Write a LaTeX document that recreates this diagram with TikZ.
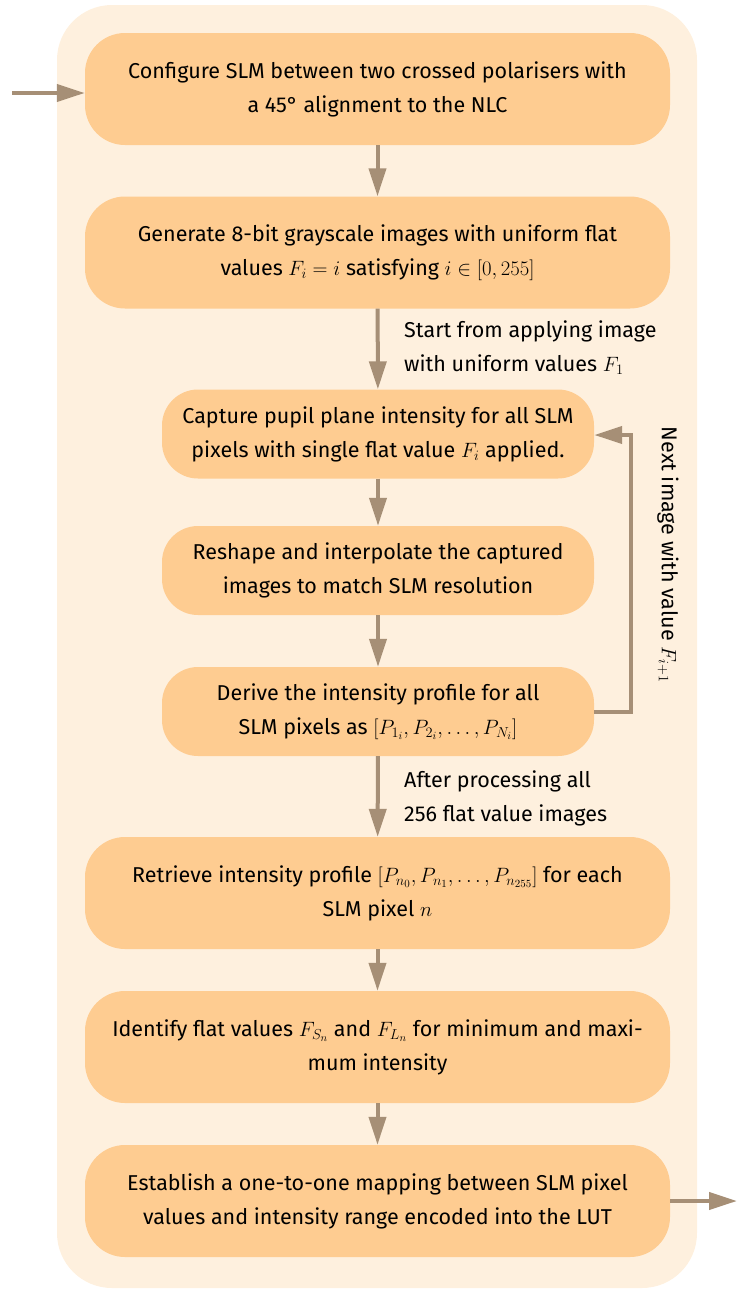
\documentclass[tikz,border=0pt]{standalone}
\usepackage{fontspec}
\setmainfont{Fira Sans}
\usetikzlibrary{arrows.meta}
\definecolor{panelc}{RGB}{254,240,222}
\definecolor{boxc}{RGB}{254,204,145}
\definecolor{arrc}{RGB}{166,143,118}
\begin{document}
\begin{tikzpicture}[x=1pt,y=-1pt,
  stepbox/.style={fill=boxc,draw=none,rounded corners=40pt,align=center,inner sep=0pt,
    font=\fontsize{21.5}{34}\selectfont},
  widebox/.style={stepbox,minimum width=585pt,minimum height=112pt},
  narrowbox/.style={stepbox,minimum width=432pt,minimum height=89pt,rounded corners=36pt},
  conn/.style={draw=arrc,line width=4pt,-{Triangle[length=28pt,width=17pt]}},
  lbl/.style={align=left,anchor=west,inner sep=0pt,font=\fontsize{21.5}{34}\selectfont}]
\useasboundingbox (0,0) rectangle (737,1291);
\fill[panelc,rounded corners=55pt] (57,5) rectangle (697,1288);

\node[widebox] (b1) at (377.5,89) {Configure SLM between two crossed polarisers with\\a 45° alignment to the NLC};
\node[widebox] (b2) at (377.5,252.5) {Generate 8-bit grayscale images with uniform flat\\values $F_i = i$ satisfying $i \in [0,255]$};
\node[narrowbox] (b3) at (378,434) {Capture pupil plane intensity for all SLM\\pixels with single flat value $F_i$ applied.};
\node[narrowbox] (b4) at (378,570.5) {Reshape and interpolate the captured\\images to match SLM resolution};
\node[narrowbox] (b5) at (378,711.5) {Derive the intensity profile for all\\SLM pixels as $[P_{1_i}, P_{2_i}, \ldots, P_{N_i}]$};
\node[widebox] (b6) at (377.5,893) {Retrieve intensity profile $[P_{n_0}, P_{n_1}, \ldots, P_{n_{255}}]$ for each\\SLM pixel $n$};
\node[widebox] (b7) at (377.5,1047) {Identify flat values $F_{S_n}$ and $F_{L_n}$ for minimum and maxi-\\mum intensity};
\node[widebox] (b8) at (377.5,1201) {Establish a one-to-one mapping between SLM pixel\\values and intensity range encoded into the LUT};

\coordinate (in) at (12,93);
\coordinate (out) at (737,1201);
\coordinate (fbR) at (631,711.5);
\coordinate (fbT) at (631,435);

\draw[conn] (in) -- (in -| b1.west);
\draw[conn] (b1) -- (b2);
\draw[conn] (b2) -- (b3);
\draw[conn] (b3) -- (b4);
\draw[conn] (b4) -- (b5);
\draw[conn] (b5) -- (b6);
\draw[conn] (b6) -- (b7);
\draw[conn] (b7) -- (b8);
\draw[conn] (b8.east) -- (out);
\draw[conn] (b5.east) -- (fbR) -- (fbT) -- (b3.east |- fbT);

\node[lbl] (l1) at (404,348) {Start from applying image\\with uniform values $F_1$};
\node[lbl] (l2) at (404,798) {After processing all\\256 flat value images};
\node[font=\fontsize{21.5}{34}\selectfont,rotate=-90,inner sep=0pt] (l3) at (668,555) {Next image with value $F_{i+1}$};
\end{tikzpicture}
\end{document}
